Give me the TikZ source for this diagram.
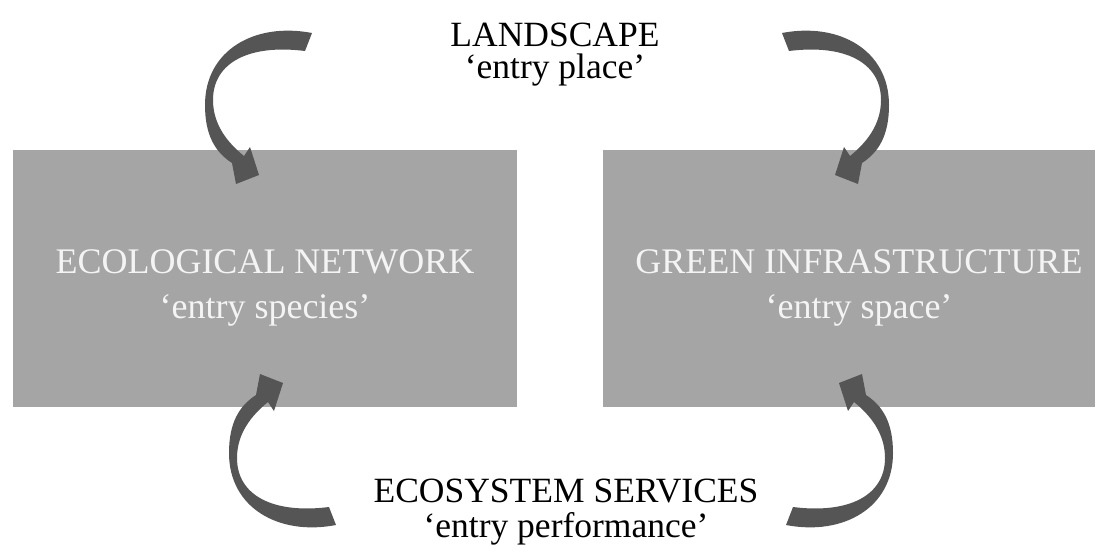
\documentclass[tikz,border=0pt]{standalone}
\usepackage{fontspec}
\setmainfont{Liberation Serif}
\definecolor{boxgray}{HTML}{A5A5A5}
\definecolor{arrowgray}{HTML}{555555}
\definecolor{boxtext}{HTML}{F4F4F4}
\newcommand\curvedarrowshape{%
  \fill[arrowfill] (312,33) .. controls (255,22) and (205,50) .. (205,105)
    .. controls (205,135) and (215,152) .. (232,163)
    -- (236,184) -- (259,175) -- (250,147) -- (244,156)
    .. controls (228,143) and (213,125) .. (213,100)
    .. controls (213,62) and (250,44) .. (305,51) -- cycle;}
\begin{document}
\begin{tikzpicture}[x=1pt,y=-1pt,
  panel/.style={fill=boxgray,draw=none},
  arrowfill/.style={fill=arrowgray},
  bigtext/.style={font=\fontsize{35.5}{40}\selectfont,inner sep=0pt,anchor=base,text=black},
  boxlabel/.style={font=\fontsize{36}{40}\selectfont,inner sep=0pt,anchor=base,text=boxtext}]
\useasboundingbox[fill=white] (0,0) rectangle (1095,550);
% boxes
\fill[panel] (13,150) rectangle (517,407);
\fill[panel] (603,150) rectangle (1095,407);
% arrows
\curvedarrowshape
\begin{scope}[shift={(1094,0)},xscale=-1]
  \curvedarrowshape
\end{scope}
\begin{scope}[shift={(24,558)},yscale=-1]
  \curvedarrowshape
\end{scope}
\begin{scope}[shift={(1098,558)},scale=-1]
  \curvedarrowshape
\end{scope}
% texts
\node[bigtext] (land) at (555,46) {LANDSCAPE};
\node[bigtext] (landsub) at (555,78) {‘entry place’};
\node[bigtext] (eco) at (566,502) {ECOSYSTEM SERVICES};
\node[bigtext] (ecosub) at (566,537) {‘entry performance’};
\node[boxlabel] (en) at (265,273) {ECOLOGICAL NETWORK};
\node[boxlabel] (ensub) at (265,318) {‘entry species’};
\node[boxlabel] (gi) at (859,273) {GREEN INFRASTRUCTURE};
\node[boxlabel] (gisub) at (859,318) {‘entry space’};
\end{tikzpicture}
\end{document}
